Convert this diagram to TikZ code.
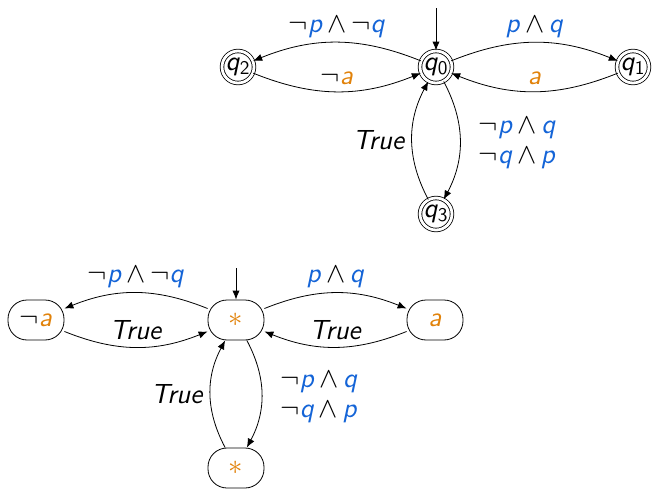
\documentclass[tikz,border=0pt]{standalone}
\usepackage{amsmath}
\usepackage{amssymb}
\usepackage{tikz}
\usetikzlibrary{positioning,arrows.meta}

\definecolor{propblue}{RGB}{20,100,215}
\definecolor{letterorange}{RGB}{225,130,10}
\newcommand{\vp}{\textcolor{propblue}{\textit{p}}}
\newcommand{\vq}{\textcolor{propblue}{\textit{q}}}
\newcommand{\va}{\textcolor{letterorange}{\textit{a}}}
\newcommand{\neglit}{$\neg$}
\newcommand{\conj}{\,$\wedge$\,}

\begin{document}
\begin{tikzpicture}[
    x=0.5pt, y=-0.5pt,
    font=\sffamily\fontsize{13.8}{15}\selectfont,
    estado/.style={
        circle,
        draw,
        double,
        double distance=1.4pt,
        minimum size=16pt,
        inner sep=0pt
    },
    caja/.style={
        draw,
        rounded corners=9.5pt,
        minimum width=28pt,
        minimum height=20pt,
        inner sep=2pt
    },
    flecha/.style={-{Latex[length=4.5pt,width=3.6pt]}}
]
\useasboundingbox (0,0) rectangle (655,493);

% automaton
\node[estado] (q0) at (436,67) {\textit{q}\textsubscript{0}};
\node[estado] (q2) at (238,67) {\textit{q}\textsubscript{2}};
\node[estado] (q1) at (633,67) {\textit{q}\textsubscript{1}};
\node[estado] (q3) at (436,214) {\textit{q}\textsubscript{3}};
\coordinate (ini0) at (436,8);

\draw[flecha] (ini0) -- (q0);
\draw[flecha] (q0) to[bend right=22] node[above, yshift=-1pt] {\neglit\vp\conj\neglit\vq} (q2);
\draw[flecha] (q2) to[bend right=22] node[above] {\neglit\va} (q0);
\draw[flecha] (q0) to[bend left=22] node[above, yshift=-1pt] {\vp\conj\vq} (q1);
\draw[flecha] (q1) to[bend left=22] node[above] {\va} (q0);
\draw[flecha] (q0) to[bend left=28] node[right=6pt, yshift=-1.5pt, align=center] {\neglit\vp\conj\vq\\\neglit\vq\conj\vp} (q3);
\draw[flecha] (q3) to[bend left=28] node[left] {\textit{True}} (q0);

% abstraction
\node[caja] (s0) at (236,320) {\textcolor{letterorange}{$*$}};
\node[caja] (na) at (36,320) {\neglit\va};
\node[caja] (pa) at (435,320) {\va};
\node[caja] (s3) at (236,468) {\textcolor{letterorange}{$*$}};
\coordinate (ini1) at (236,268);

\draw[flecha] (ini1) -- (s0);
\draw[flecha] (s0) to[bend right=22] node[above, yshift=-1pt] {\neglit\vp\conj\neglit\vq} (na);
\draw[flecha] (na) to[bend right=22] node[above] {\textit{True}} (s0);
\draw[flecha] (s0) to[bend left=22] node[above, yshift=-1pt] {\vp\conj\vq} (pa);
\draw[flecha] (pa) to[bend left=22] node[above] {\textit{True}} (s0);
\draw[flecha] (s0) to[bend left=28] node[right=6pt, yshift=-1.5pt, align=center] {\neglit\vp\conj\vq\\\neglit\vq\conj\vp} (s3);
\draw[flecha] (s3) to[bend left=28] node[left] {\textit{True}} (s0);

\end{tikzpicture}
\end{document}
